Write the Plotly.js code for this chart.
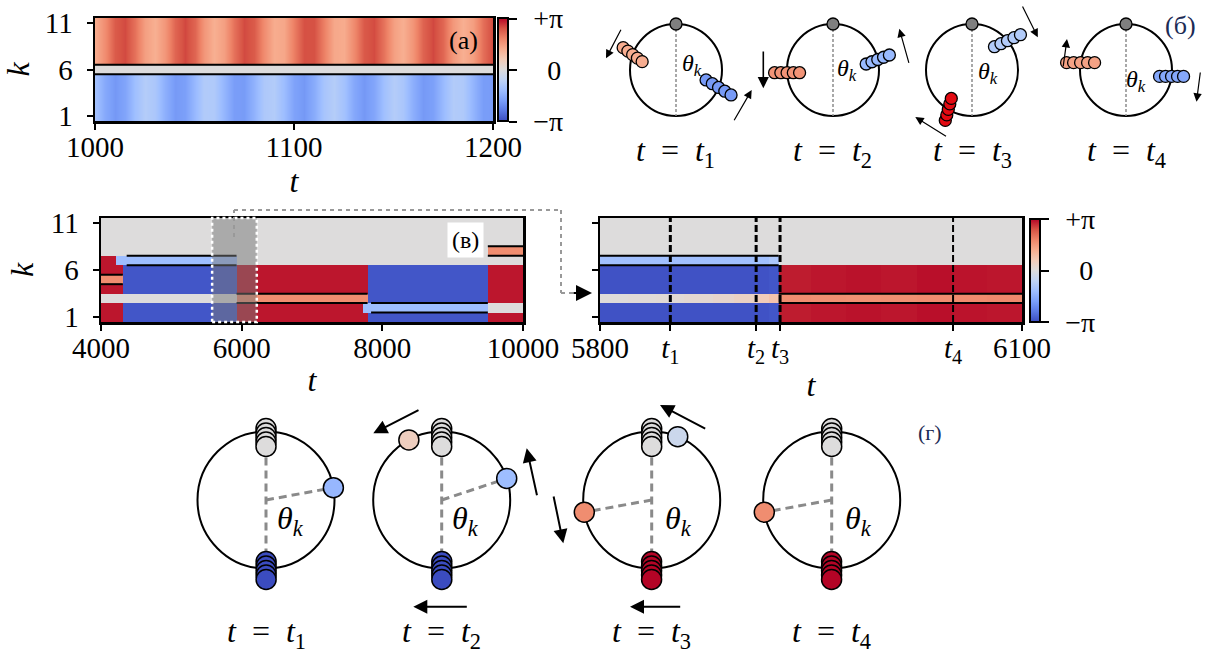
<!DOCTYPE html>
<html><head><meta charset="utf-8">
<script src="https://cdn.plot.ly/plotly-3.0.1.min.js"></script>
<style>body{margin:0;background:#fff}#chart{width:1209px;height:657px}</style>
</head><body><div id="chart"></div>
<script>
const W = 1209, H = 657, PI = Math.PI;
const FONT = 'Liberation Serif';

// ---------------- DATA ----------------
// panel (a): phases of the two clusters, k = 1..5 (blue) and k = 7..11 (red), k = 6 at 0
const tA = [1000,1005,1010,1015,1020,1025,1030,1035,1040,1045,1050,1055,1060,1065,1070,1075,1080,1085,1090,1095,1100,1105,1110,1115,1120,1125,1130,1135,1140,1145,1150,1155,1160,1165,1170,1175,1180,1185,1190,1195,1200];
const phaseRedA = [1.25,1.76,2.40,2.58,2.12,1.46,1.20,1.60,2.27,2.60,2.27,1.60,1.20,1.46,2.12,2.58,2.40,1.76,1.25,1.34,1.96,2.52,2.51,1.93,1.32,1.26,1.79,2.42,2.57,2.09,1.44,1.21,1.63,2.30,2.60,2.25,1.57,1.20,1.48,2.15,2.59];
const phaseBlueA = [-1.13,-1.69,-2.00,-1.77,-1.21,-0.85,-1.02,-1.56,-1.97,-1.87,-1.35,-0.90,-0.93,-1.42,-1.91,-1.94,-1.49,-0.97,-0.87,-1.28,-1.82,-1.99,-1.63,-1.07,-0.84,-1.15,-1.71,-2.00,-1.75,-1.19,-0.85,-1.04,-1.58,-1.98,-1.85,-1.33,-0.89,-0.94,-1.44,-1.92,-1.93];
const phaseMidA = [0];
const ticksA = [1000, 1100, 1200];
const kTicks = [1, 6, 11];

// panel (в) left: piecewise phases, rows k = 1..11, columns between time edges
const tEdgesV = [4000, 4210, 4310, 5927, 7720, 7800, 9500, 10000];
const phaseV_k1  = [3, 3, -3, 3, 3, -3, 3];
const phaseV_k2  = [3, 3, -3, 3, -1.25, -1.25, 0];
const phaseV_k3  = [0, 0, 0, 1.75, 1.75, -3, 3];
const phaseV_k4  = [3, 3, -3, 3, 3, -3, 3];
const phaseV_k5  = [1.75, 1.75, -3, 3, 3, -3, 3];
const phaseV_k6  = [3, 3, -3, 3, 3, -3, 3];
const phaseV_k7  = [3, -1.25, -1.25, 0, 0, 0, 0];
const phaseV_k8  = [0, 0, 0, 0, 0, 0, 1.75];
const phaseV_k9  = [0, 0, 0, 0, 0, 0, 0];
const phaseV_k10 = [0, 0, 0, 0, 0, 0, 0];
const phaseV_k11 = [0, 0, 0, 0, 0, 0, 0];
const ticksV = [4000, 6000, 8000, 10000];
const zoomBoxV = [5580, 6215];
// boundary lines of the coherent clusters: start, end, level
const lineV_t0 = [4000, 4000, 4365, 4365, 5927, 5927, 7840, 7840, 9500, 9500];
const lineV_t1 = [4310, 4310, 5927, 5927, 7790, 7790, 9500, 9500, 10000, 10000];
const lineV_k  = [5.5, 4.5, 7.5, 6.5, 3.5, 2.5, 2.5, 1.5, 8.5, 7.5];

// panel (в) right: zoom 5800..6100
const tEdgesR = [5800, 5820, 5840, 5860, 5880, 5895, 5910, 5920, 5927, 5950, 5975, 6000, 6025, 6050, 6075, 6100];
const phaseR_bulk = [-3.05, -3.05, -3.05, -3.05, -3.05, -3.05, -3.05, -3.0, 2.95, 3.0, 3.03, 3.0, 3.05, 3.02, 3.0];
const phaseR_k3   = [0.05, 0.08, 0.12, 0.18, 0.28, 0.4, 0.6, 0.8, 1.75, 1.72, 1.7, 1.72, 1.75, 1.78, 1.8];
const phaseR_k7   = [-1.2, -1.2, -1.2, -1.2, -1.2, -1.2, -1.2, -1.0, 0, 0, 0, 0, 0, 0, 0];
const phaseR_top  = [0, 0, 0, 0, 0, 0, 0, 0, 0, 0, 0, 0, 0, 0, 0];
const tMarks = [5850, 5911, 5928, 6051];
const lineR_t0 = [5800, 5800, 5927, 5927];
const lineR_t1 = [5927, 5927, 6100, 6100];
const lineR_k  = [7.5, 6.5, 3.5, 2.5];

// panel (б): clusters on the circle (phase theta, 0 at top, positive to the left)
const clusterDiagB  = [0, 0, 1, 1, 2, 2, 3, 3];
const clusterPhaseB = [1.23, -1.96, 1.63, -1.34, -0.88, 2.60, 1.41, -1.71];
const topPhaseB = [0, 0, 0, 0];

// panel (г)
const topPhaseG = [0, 0, 0, 0];
const bottomPhaseG = [-3.14, -3.14, 3.14, 3.14];
const singleDiagG  = [0, 1, 1, 2, 2, 3];
const singlePhaseG = [-1.39, -1.25, 0.50, -0.39, 1.75, 1.75];
const radialPhaseG = [-1.39, -1.25, 1.75, 1.75];
const stackSize = 5;

// ---------------- STYLE / LAYOUT ----------------
const coolwarm = [[0,'#3b4cc0'],[0.1,'#5a78e4'],[0.2,'#7b9ff9'],[0.3,'#9ebeff'],[0.4,'#c0d4f5'],[0.5,'#dddcdc'],[0.6,'#f2cbb7'],[0.7,'#f7ac8e'],[0.8,'#ee8468'],[0.9,'#d65244'],[1,'#b40426']];
function hex2rgb(h){return [parseInt(h.slice(1,3),16),parseInt(h.slice(3,5),16),parseInt(h.slice(5,7),16)];}
function cw(v){
  let s = (v + PI) / (2*PI); s = Math.max(0, Math.min(1, s));
  for (let i = 1; i < coolwarm.length; i++) {
    if (s <= coolwarm[i][0]) {
      const a = coolwarm[i-1], b = coolwarm[i];
      const f = (s - a[0]) / (b[0] - a[0]);
      const ca = hex2rgb(a[1]), cb = hex2rgb(b[1]);
      return 'rgb(' + ca.map((c, j) => Math.round(c + (cb[j] - c) * f)).join(',') + ')';
    }
  }
  return coolwarm[coolwarm.length-1][1];
}
const px = x => x / W;
const py = y => 1 - y / H;

const axisStyle = {showline:true, mirror:true, linecolor:'black', linewidth:2.5, ticks:'outside', ticklen:6, tickwidth:2, tickcolor:'black', showgrid:false, zeroline:false, tickfont:{family:FONT, size:29, color:'black'}, fixedrange:true};
const SP = '\u2009\u2009';
const cbStyle = (xpx, ycpx) => ({x:px(xpx), xanchor:'left', y:py(ycpx), yanchor:'middle', len:103, lenmode:'pixels', thickness:10, thicknessmode:'pixels', outlinewidth:2, outlinecolor:'black', tickvals:[-PI,0,PI], ticktext:[SP+'\u2212\u03c0', SP+'\u20020', SP+'+\u03c0'], ticks:'outside', ticklen:8, tickwidth:2, tickcolor:'black', tickfont:{family:FONT,size:28,color:'black'}, xpad:0, ypad:0});

const traces = [];
const hm = {type:'heatmap', colorscale:coolwarm, zmin:-PI, zmax:PI, hoverinfo:'skip'};

// panel (a)
traces.push(Object.assign({}, hm, {x:tA, y:[6.5, 9, 11.5], z:[phaseRedA, phaseRedA], zsmooth:'best', xaxis:'x', yaxis:'y', showscale:true, colorbar:cbStyle(498, 70)}));
traces.push(Object.assign({}, hm, {x:tA, y:[0.5, 3, 5.5], z:[phaseBlueA, phaseBlueA], zsmooth:'best', xaxis:'x', yaxis:'y', showscale:false}));
traces.push(Object.assign({}, hm, {x:[tA[0], tA[tA.length-1]], y:[5.5, 6.5], z:[phaseMidA], xaxis:'x', yaxis:'y', showscale:false}));
traces.push({type:'scatter', mode:'lines', x:[tA[0], tA[tA.length-1], null, tA[0], tA[tA.length-1]], y:[5.5,5.5,null,6.5,6.5], line:{color:'black', width:2}, xaxis:'x', yaxis:'y', hoverinfo:'skip', showlegend:false});

// panel (в) left
const kEdges = [0.5,1.5,2.5,3.5,4.5,5.5,6.5,7.5,8.5,9.5,10.5,11.5];
const zV = [phaseV_k1, phaseV_k2, phaseV_k3, phaseV_k4, phaseV_k5, phaseV_k6, phaseV_k7, phaseV_k8, phaseV_k9, phaseV_k10, phaseV_k11];
traces.push(Object.assign({}, hm, {x:tEdgesV, y:kEdges, z:zV, xaxis:'x2', yaxis:'y2', showscale:false}));
function segTrace(t0, t1, k, xa, ya){
  const xs = [], ys = [];
  t0.forEach((a, i) => { xs.push(a, t1[i], null); ys.push(k[i], k[i], null); });
  return {type:'scatter', mode:'lines', x:xs, y:ys, line:{color:'black', width:2}, xaxis:xa, yaxis:ya, hoverinfo:'skip', showlegend:false};
}
traces.push(segTrace(lineV_t0, lineV_t1, lineV_k, 'x2', 'y2'));

// panel (в) right
const zR = [phaseR_bulk, phaseR_bulk, phaseR_k3, phaseR_bulk, phaseR_bulk, phaseR_bulk, phaseR_k7, phaseR_top, phaseR_top, phaseR_top, phaseR_top];
traces.push(Object.assign({}, hm, {x:tEdgesR, y:kEdges, z:zR, xaxis:'x3', yaxis:'y3', showscale:true, colorbar:cbStyle(1030, 270.5)}));
traces.push(segTrace(lineR_t0, lineR_t1, lineR_k, 'x3', 'y3'));

const titleT = {text:'<i>t</i>', font:{family:FONT,size:32}, standoff:6};
const titleK = {text:'<i>k</i>', font:{family:FONT,size:32}, standoff:8};
const xStyle = {ticklabelstandoff:-7, title:titleT};
const layout = {
  width:W, height:H, margin:{l:0,r:0,t:0,b:0}, paper_bgcolor:'white', plot_bgcolor:'rgba(0,0,0,0)',
  showlegend:false, font:{family:FONT, color:'black'},
  xaxis: Object.assign({}, axisStyle, xStyle, {domain:[px(95), px(493)], range:[1000,1200], tickvals:ticksA, ticktext:ticksA.map(String), anchor:'y'}),
  yaxis: Object.assign({}, axisStyle, {domain:[py(121), py(18)], range:[0.5,11.5], tickvals:kTicks, ticktext:kTicks.map(String), anchor:'x', title:titleK, ticklabelstandoff:8}),
  xaxis2: Object.assign({}, axisStyle, xStyle, {domain:[px(101), px(523)], range:[4000,10000], tickvals:ticksV, ticktext:ticksV.map(String), anchor:'y2'}),
  yaxis2: Object.assign({}, axisStyle, {domain:[py(322), py(218)], range:[0.5,11.5], tickvals:kTicks, ticktext:kTicks.map(String), anchor:'x2', title:titleK, ticklabelstandoff:8}),
  xaxis3: Object.assign({}, axisStyle, xStyle, {domain:[px(600), px(1022)], range:[5800,6100], tickvals:[5800].concat(tMarks, [6100]), ticktext:['5800'].concat(tMarks.map((t, i) => '<i>t</i><sub>' + (i+1) + '</sub>'), ['6100']), anchor:'y3'}),
  yaxis3: Object.assign({}, axisStyle, {domain:[py(322), py(218)], range:[0.5,11.5], tickvals:kTicks, showticklabels:false, anchor:'x3'}),
  shapes:[], annotations:[]
};

// ---------- circle diagrams ----------
function addDiagram(n, cx, cy, r, S){
  layout['xaxis'+n] = {domain:[px(cx-S), px(cx+S)], range:[-S/r, S/r], visible:false, fixedrange:true, anchor:'y'+n};
  layout['yaxis'+n] = {domain:[py(cy+S), py(cy-S)], range:[-S/r, S/r], visible:false, fixedrange:true, anchor:'x'+n};
}
const Bcx = [676, 833, 972, 1126], Bcy = 70, Br = 46, BS = 62;
const Gcx = [266, 441.7, 651.7, 831.7], Gcy = 500, Gr = 68.5, GS = 90;
Bcx.forEach((cx, i) => addDiagram(4+i, cx, Bcy, Br, BS));
Gcx.forEach((cx, i) => addDiagram(8+i, cx, Gcy, Gr, GS));

const ptx = th => -Math.sin(th), pty = th => Math.cos(th);
function dots(n, xs, ys, colors, size, lw){
  return {type:'scatter', mode:'markers', x:xs, y:ys, xaxis:'x'+n, yaxis:'y'+n, cliponaxis:false, hoverinfo:'skip', showlegend:false,
    marker:{size:size, color:colors, line:{color:'black', width:lw}}};
}
function dline(n, xs, ys, color, width, dash){
  return {type:'scatter', mode:'lines', x:xs, y:ys, xaxis:'x'+n, yaxis:'y'+n, cliponaxis:false, hoverinfo:'skip', showlegend:false, line:{color:color, width:width, dash:dash}};
}
function stack(th, stepPx, basePx, r){
  const xs = [], ys = [];
  for (let m = 0; m < stackSize; m++) {
    const o = m - (stackSize-1)/2;
    xs.push(ptx(th) + (basePx[0] + o*stepPx[0]) / r);
    ys.push(pty(th) - (basePx[1] + o*stepPx[1]) / r);
  }
  return [xs, ys];
}

// (б)
const stepB = [[4.75,3.5],[6.25,3.75],[6.25,0],[5.8,-2.25],[6.5,-3],[1.5,-5.5],[7,0],[6,0]];
const colorOverrideB = [null,null,null,null,null,'#e30a12',null,null];
Bcx.forEach((cx, i) => {
  const n = 4+i;
  layout.shapes.push({type:'circle', xref:'x'+n, yref:'y'+n, x0:-1, x1:1, y0:-1, y1:1, line:{color:'black', width:2}, layer:'below'});
  traces.push(dline(n, [ptx(0), ptx(PI)], [pty(0), pty(PI)], '#8c8c8c', 1.5, '3px,2px'));
  traces.push(dots(n, [ptx(topPhaseB[i])], [pty(topPhaseB[i])], ['#7f7f7f'], 12, 1.3));
});
clusterPhaseB.forEach((th, j) => {
  const n = 4 + clusterDiagB[j];
  const [xs, ys] = stack(th, stepB[j], [0,0], Br);
  const c = colorOverrideB[j] || cw(th);
  traces.push(dots(n, xs, ys, xs.map(() => c), 12, 1.3));
});

// (г)
Gcx.forEach((cx, i) => {
  const n = 8+i;
  layout.shapes.push({type:'circle', xref:'x'+n, yref:'y'+n, x0:-1, x1:1, y0:-1, y1:1, line:{color:'black', width:2}, layer:'below'});
  traces.push(dline(n, [ptx(0), ptx(PI)], [pty(0), pty(PI)], '#8a8a8a', 3, '8px,5px'));
  traces.push(dline(n, [0, ptx(radialPhaseG[i])], [0, pty(radialPhaseG[i])], '#8a8a8a', 3, '8px,5px'));
  let [xs, ys] = stack(topPhaseG[i], [0,4.5], [0,6], Gr);
  traces.push(dots(n, xs, ys, xs.map(() => cw(topPhaseG[i])), 20, 1.5));
  [xs, ys] = stack(bottomPhaseG[i], [0,4.5], [0,2], Gr);
  traces.push(dots(n, xs, ys, xs.map(() => cw(bottomPhaseG[i])), 20, 1.5));
});
singlePhaseG.forEach((th, j) => {
  traces.push(dots(8 + singleDiagG[j], [ptx(th)], [pty(th)], [cw(th)], 20, 1.5));
});

// ---------- shapes for (в) ----------
layout.shapes.push({type:'rect', xref:'x2', yref:'y2 domain', x0:zoomBoxV[0], x1:zoomBoxV[1], y0:0, y1:1, fillcolor:'rgba(120,120,120,0.5)', line:{color:'white', width:2.5, dash:'dot'}, layer:'above'});
tMarks.forEach((t, i) => {
  layout.shapes.push({type:'line', xref:'x3', yref:'y3 domain', x0:t, x1:t, y0:0, y1:1, line:{color:'black', width:i < 3 ? 3 : 2, dash:'7px,3px'}, layer:'above'});
});
const conn = [[234,237,234,210],[234,210,561,210],[561,210,561,293],[561,293,578,293]];
conn.forEach(c => layout.shapes.push({type:'line', xref:'paper', yref:'paper', x0:px(c[0]), y0:py(c[1]), x1:px(c[2]), y1:py(c[3]), line:{color:'#999999', width:2, dash:'4px,4px'}, layer:'above'}));

// ---------- annotations ----------
function txt(s, x, y, size, color, extra){
  layout.annotations.push(Object.assign({text:s, x:px(x), y:py(y), xref:'paper', yref:'paper', showarrow:false, xanchor:'center', yanchor:'middle', font:{family:FONT, size:size, color:color || 'black'}}, extra || {}));
}
function arrow(tx, ty, hx, hy, w, s){
  layout.annotations.push({text:'', x:px(hx), y:py(hy), xref:'paper', yref:'paper', ax:tx-hx, ay:ty-hy, showarrow:true, arrowhead:2, arrowsize:s, arrowwidth:w, arrowcolor:'black'});
}
txt('(a)', 463, 40, 26);
txt('(б)', 1180, 25, 26, '#1c2b55');
txt('(в)', 465, 240, 24, 'black', {bgcolor:'white', borderpad:4});
txt('(г)', 930, 432, 22, '#1c2b55');
const lbl = i => '<i>t</i>\u2002=\u2002<i>t</i><sub>' + (i+1) + '</sub>';
Bcx.forEach((cx, i) => txt(lbl(i), cx, 152, 32));
Gcx.forEach((cx, i) => txt(lbl(i), cx, 633, 32));
const thB = [[691.7,65],[846.7,70],[987.6,73],[1136,81]];
thB.forEach(p => txt('<i>θ</i><sub><i>k</i></sub>', p[0], p[1], 24));
const thG = [[290,520],[465,520],[678,520],[858,520]];
thG.forEach(p => txt('<i>θ</i><sub><i>k</i></sub>', p[0], p[1], 32));

// arrows (б)
arrow(621.7, 28.3, 606, 58.3, 1.2, 1.4);
arrow(733.3, 121.7, 751.7, 90, 1.2, 1.4);
arrow(763.3, 50, 763.3, 88.3, 1.6, 1.4);
arrow(909.3, 64.4, 899.3, 28.8, 1.2, 1.4);
arrow(1021.8, 5, 1037.8, 37.3, 1.2, 1.4);
arrow(947.5, 137.3, 915.3, 117, 1.2, 1.4);
arrow(1063, 67.8, 1067, 39, 1.2, 1.4);
arrow(1200.5, 71, 1196.5, 101.7, 1.2, 1.4);
// arrows (г)
arrow(420, 409.3, 373.3, 433.3, 2, 1.4);
arrow(537.3, 496.7, 526.7, 448.3, 2, 1.4);
arrow(468.3, 606.7, 413.3, 606.7, 2, 1.4);
arrow(553.3, 495, 563.3, 543.3, 2, 1.4);
arrow(706.7, 429.3, 660, 405, 2, 1.4);
arrow(681.7, 606.7, 630, 606.7, 2, 1.4);
// connector arrow head
arrow(572, 293, 592, 293, 2, 1.6);

Plotly.newPlot('chart', traces, layout, {staticPlot:true, displayModeBar:false});
</script></body></html>
